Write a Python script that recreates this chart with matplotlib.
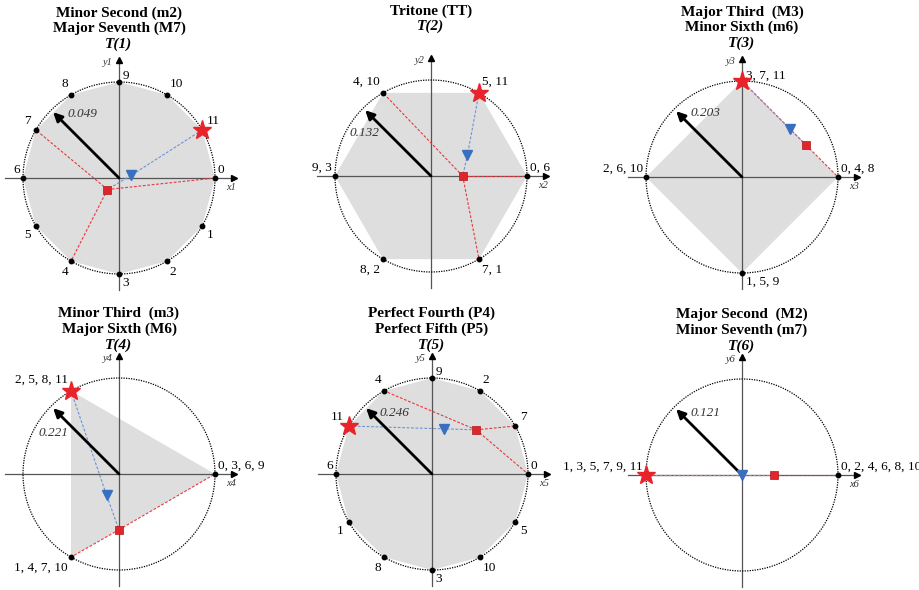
import numpy as np
import matplotlib
matplotlib.use("Agg")
import matplotlib.pyplot as plt

plt.rcParams['font.family'] = ['Liberation Serif', 'DejaVu Serif']

# titles of the six panels
titles = [
    ["Minor Second (m2)", "Major Seventh (M7)", "T(1)"],
    ["Tritone (TT)", "T(2)"],
    ["Major Third  (M3)", "Minor Sixth (m6)", "T(3)"],
    ["Minor Third  (m3)", "Major Sixth (M6)", "T(4)"],
    ["Perfect Fourth (P4)", "Perfect Fifth (P5)", "T(5)"],
    ["Major Second  (M2)", "Minor Seventh (m7)", "T(6)"],
]

# pitch-class points on each circle (angle in degrees, label)
point_angles = [
    [0, 30, 60, 90, 120, 150, 180, 210, 240, 270, 300, 330],
    [0, 60, 120, 180, 240, 300],
    [0, 90, 180, 270],
    [0, 120, 240],
    [0, 30, 60, 90, 120, 150, 180, 210, 240, 270, 300, 330],
    [0, 180],
]
point_labels = [
    ['0', '11', '10', '9', '8', '7', '6', '5', '4', '3', '2', '1'],
    ['0, 6', '5, 11', '4, 10', '9, 3', '8, 2', '7, 1'],
    ['0, 4, 8', '3, 7, 11', '2, 6, 10', '1, 5, 9'],
    ['0, 3, 6, 9', '2, 5, 8, 11', '1, 4, 7, 10'],
    ['0', '7', '2', '9', '4', '11', '6', '1', '8', '3', '10', '5'],
    ['0, 2, 4, 6, 8, 10', '1, 3, 5, 7, 9, 11'],
]

# chord notes (C, E, G) joined to the square, star note (B)
chord_angles = [[0, 240, 150], [0, 120, 300], [0, 90], [0, 240], [0, 120, 30], [0, 180]]
star_angles = [30, 60, 90, 120, 150, 180]
square_xy = [(-0.12, -0.12), (0.33, 0.0), (0.67, 0.33), (0.0, -0.58), (0.46, 0.46), (0.33, 0.0)]
triangle_xy = [(0.13, 0.03), (0.38, 0.22), (0.5, 0.5), (-0.13, -0.22), (0.13, 0.47), (0.0, 0.0)]
magnitudes = ['0.049', '0.132', '0.203', '0.221', '0.246', '0.121']

# layout
W, H = 920, 590
R = 96.0
centers = [(119, 178), (431, 176), (742, 177), (119, 474), (432, 474), (742, 475)]
mag_pos = [(-0.54, 0.67), (-0.85, 0.45), (-0.54, 0.67), (-0.84, 0.43), (-0.55, 0.64), (-0.54, 0.65)]

fig = plt.figure(figsize=(W / 100, H / 100), dpi=100)


def xy(ang, r=1.0):
    a = np.deg2rad(ang)
    return r * np.cos(a), r * np.sin(a)


for i in range(6):
    cx, cy = centers[i]
    ax = fig.add_axes([(cx - 150) / W, 1 - (cy + 150) / H, 300 / W, 300 / H])
    lim = 150 / R
    ax.set_xlim(-lim, lim)
    ax.set_ylim(-lim, lim)
    ax.axis('off')
    k = i + 1

    # grey hull
    angs = point_angles[i]
    if len(angs) > 2:
        px = [xy(a)[0] for a in angs]
        py = [xy(a)[1] for a in angs]
        ax.fill(px, py, color='#dedede', zorder=1, lw=0)

    # axes with arrow heads
    ax.plot([-1.19, 1.2], [0, 0], color='#555555', lw=0.9, zorder=2)
    ax.plot([0, 0], [-1.17, 1.23], color='#555555', lw=0.9, zorder=2)
    ax.plot(1.2, 0, marker='>', color='k', ms=4, zorder=3)
    ax.plot(0, 1.23, marker='^', color='k', ms=4, zorder=3)
    ax.text(1.17, -0.1, 'x%d' % k, fontsize=7.5, style='italic', ha='center', va='center', color='#333333')
    ax.text(-0.12, 1.2, 'y%d' % k, fontsize=7.5, style='italic', ha='center', va='center', color='#333333')

    # dotted unit circle
    t = np.linspace(0, 2 * np.pi, 400)
    ax.plot(np.cos(t), np.sin(t), color='k', lw=0.9, ls=(0, (1, 1)), zorder=2)

    # red dashed lines square -> chord notes
    sx, sy = square_xy[i]
    for a in chord_angles[i]:
        ex, ey = xy(a)
        ax.plot([sx, ex], [sy, ey], color='#e8383d', lw=0.8, ls=(0, (2.5, 1.5)), zorder=3)

    # blue dashed star -> triangle -> square
    stx, sty = xy(star_angles[i])
    tx, ty = triangle_xy[i]
    ax.plot([stx, tx, sx], [sty, ty, sy], color='#6d93d3', lw=0.8, ls=(0, (2.5, 1.5)), zorder=3)

    # magnitude arrow
    tip = xy(135, 0.97)
    ax.annotate('', xy=tip, xytext=(0, 0),
                arrowprops=dict(arrowstyle='-|>', lw=2, color='k', mutation_scale=13,
                                shrinkA=0, shrinkB=0), zorder=5)
    mx, my = mag_pos[i]
    ax.text(mx, my, magnitudes[i], fontsize=9.5, style='italic', ha='left', va='center', color='#333333')

    # points and labels
    fs = 9.5
    for a, lab in zip(angs, point_labels[i]):
        x0, y0 = xy(a)
        ax.plot(x0, y0, 'o', color='k', ms=3.2, zorder=4)
        if a == 0:
            ax.text(1.03, 0.02, lab, fontsize=fs, ha='left', va='bottom')
        elif a == 180:
            ax.text(-1.03, 0.02, lab, fontsize=fs, ha='right', va='bottom')
        elif a == 90:
            ax.text(0.04, 1.06, lab, fontsize=fs, ha='left', va='center')
        elif a == 270:
            ax.text(0.04, -1.09, lab, fontsize=fs, ha='left', va='center')
        else:
            lx, ly = xy(a, 1.06)
            ax.text(lx, ly, lab, fontsize=fs,
                    ha='left' if lx > 0 else 'right',
                    va='bottom' if ly > 0 else 'top')

    # markers
    ax.plot(stx, sty, marker='*', color='#e8232a', ms=14, mec='#e8232a', zorder=6)
    ax.plot(sx, sy, marker='s', color='#e0252b', ms=6, mec='#b01818', mew=0.5, zorder=6)
    ax.plot(tx, ty, marker='v', color='#3a6fbf', ms=7, zorder=6)

    # title
    y0 = 1.72 if i < 3 else 1.67
    for j, line in enumerate(titles[i]):
        last = j == len(titles[i]) - 1
        ax.text(0, y0 - 0.165 * j, line, fontsize=11, fontweight='bold',
                style='italic' if last else 'normal', ha='center', va='center')

fig.savefig('out.png', dpi=100)
